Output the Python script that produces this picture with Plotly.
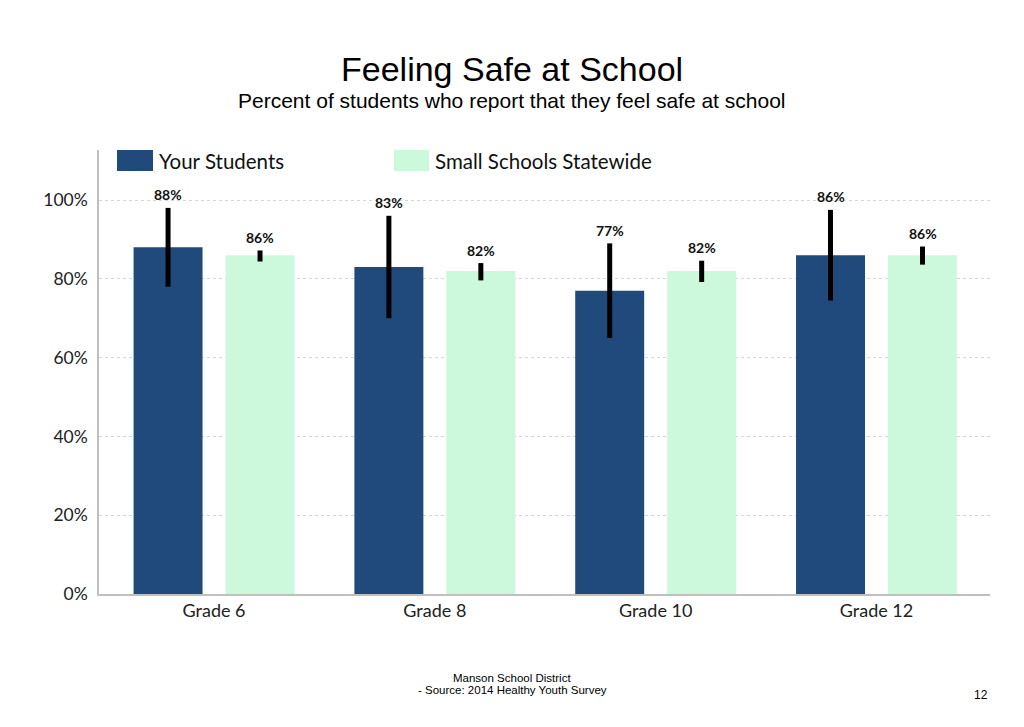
import plotly.graph_objects as go

categories = ["Grade 6", "Grade 8", "Grade 10", "Grade 12"]
your_students = [88, 83, 77, 86]
your_err_plus = [10, 13, 12, 11.5]
your_err_minus = [10, 13, 12, 11.5]
statewide = [86, 82, 82, 86]
state_err_plus = [1.2, 2.0, 2.6, 2.2]
state_err_minus = [1.6, 2.4, 2.8, 2.4]
y_ticks = [0, 20, 40, 60, 80, 100]
y_tick_labels = ["0%", "20%", "40%", "60%", "80%", "100%"]

DARK = "#214A7C"
LIGHT = "#CCF9DC"
LABEL_FONT = "Lato, Open Sans, sans-serif"
TITLE_FONT = "Liberation Sans, Arial, sans-serif"

# page offset compensation (browser body margin)
OFF = 8
W, H = 1024 - OFF, 727 - OFF
L, T, R, B = 99 - OFF, 150 - OFF, 34, 133


def py(p):
    return (594 - p) / 444


def px(p):
    return (p - 99) / 891


fig = go.Figure()
fig.add_trace(go.Bar(
    x=categories, y=your_students, name="Your Students", marker_color=DARK,
    marker_line_width=0, offsetgroup="a", showlegend=False,
    error_y=dict(type="data", symmetric=False, array=your_err_plus,
                 arrayminus=your_err_minus, color="black", thickness=5, width=0),
    hoverinfo="skip",
))
fig.add_trace(go.Bar(
    x=categories, y=statewide, name="Small Schools Statewide", marker_color=LIGHT,
    marker_line_width=0, offsetgroup="b", showlegend=False,
    error_y=dict(type="data", symmetric=False, array=state_err_plus,
                 arrayminus=state_err_minus, color="black", thickness=5, width=0),
    hoverinfo="skip",
))

annotations = []
for i, c in enumerate(categories):
    annotations.append(dict(x=c, y=your_students[i] + your_err_plus[i], xref="x", yref="y",
                            text=f"<b>{your_students[i]}%</b>", showarrow=False,
                            xshift=-46, yshift=13, font=dict(family=LABEL_FONT, size=14, color="#111")))
    annotations.append(dict(x=c, y=statewide[i] + state_err_plus[i], xref="x", yref="y",
                            text=f"<b>{statewide[i]}%</b>", showarrow=False,
                            xshift=46, yshift=13, font=dict(family=LABEL_FONT, size=14, color="#111")))

annotations += [
    dict(text="Feeling Safe at School", x=px(512), y=py(69), xref="paper", yref="paper",
         xanchor="center", yanchor="middle", showarrow=False,
         font=dict(family=TITLE_FONT, size=34, color="#000")),
    dict(text="Percent of students who report that they feel safe at school", x=px(512), y=py(101),
         xref="paper", yref="paper", xanchor="center", yanchor="middle", showarrow=False,
         font=dict(family=TITLE_FONT, size=21, color="#000")),
    dict(text="Manson School District", x=px(512), y=py(678), xref="paper", yref="paper",
         xanchor="center", yanchor="middle", showarrow=False,
         font=dict(family=TITLE_FONT, size=11.5, color="#000")),
    dict(text="- Source: 2014 Healthy Youth Survey", x=px(512), y=py(690), xref="paper", yref="paper",
         xanchor="center", yanchor="middle", showarrow=False,
         font=dict(family=TITLE_FONT, size=11.5, color="#000")),
    dict(text="12", x=px(981), y=py(695), xref="paper", yref="paper",
         xanchor="center", yanchor="middle", showarrow=False,
         font=dict(family=TITLE_FONT, size=12, color="#000")),
    dict(text="Your Students", x=px(157), y=py(161), xref="paper", yref="paper",
         xanchor="left", yanchor="middle", showarrow=False,
         font=dict(family=LABEL_FONT, size=20.5, color="#111")),
    dict(text="Small Schools Statewide", x=px(433), y=py(161), xref="paper", yref="paper",
         xanchor="left", yanchor="middle", showarrow=False,
         font=dict(family=LABEL_FONT, size=20.5, color="#111")),
]

shapes = [
    dict(type="rect", xref="paper", yref="paper", x0=px(117), x1=px(153), y0=py(171), y1=py(150),
         fillcolor=DARK, line_width=0),
    dict(type="rect", xref="paper", yref="paper", x0=px(394), x1=px(429), y0=py(171), y1=py(150),
         fillcolor=LIGHT, line_width=0),
]

fig.update_layout(
    width=W, height=H,
    margin=dict(l=L, r=R, t=T, b=B, pad=0),
    paper_bgcolor="white", plot_bgcolor="white",
    barmode="group", bargap=0.167, bargroupgap=0.25,
    annotations=annotations, shapes=shapes,
    showlegend=False,
    xaxis=dict(range=[-0.521, 3.514], showline=True, linecolor="#BFBFBF", linewidth=1.5, ticks="",
               tickfont=dict(family=LABEL_FONT, size=18, color="#222"), showgrid=False),
    yaxis=dict(range=[0, 112.7], tickvals=y_ticks, ticktext=y_tick_labels,
               showline=True, linecolor="#BFBFBF", linewidth=1.5,
               showgrid=True, gridcolor="#D6D6D6", griddash="3px,3px", gridwidth=1,
               zeroline=False, ticks="", ticklabelstandoff=6,
               tickfont=dict(family=LABEL_FONT, size=17.5, color="#222")),
)

fig.write_html("out.html")
